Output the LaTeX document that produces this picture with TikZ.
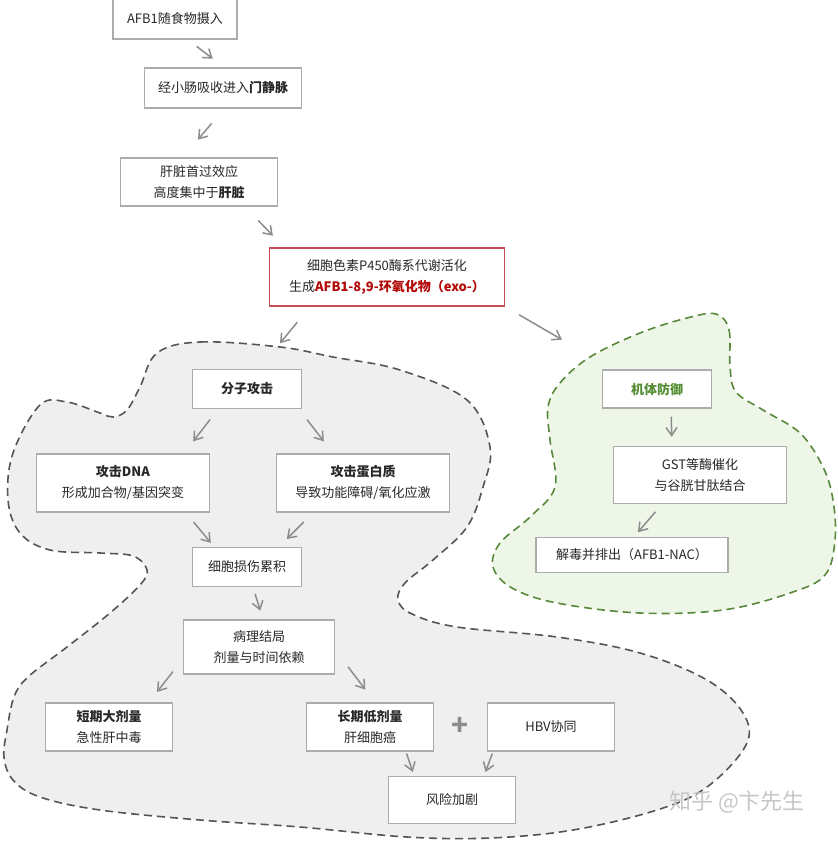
\documentclass[tikz,border=0pt]{standalone}
\usepackage{fontspec}
\setmainfont{Noto Sans CJK SC}
\usetikzlibrary{arrows.meta}
\definecolor{boxline}{RGB}{172,172,172}
\definecolor{inktext}{RGB}{40,40,40}
\definecolor{redline}{RGB}{196,80,84}
\definecolor{redtext}{RGB}{178,8,8}
\definecolor{greentext}{RGB}{84,142,52}
\definecolor{greenline}{RGB}{88,136,58}
\definecolor{greenfill}{RGB}{238,246,232}
\definecolor{grayfill}{RGB}{239,239,239}
\definecolor{grayline}{RGB}{85,85,85}
\definecolor{arrowgray}{RGB}{140,140,140}
\begin{document}
\begin{tikzpicture}
[x=1pt, y=-1pt, font=\fontsize{13}{21}\selectfont, text=inktext]
\tikzstyle{box}=[draw=boxline, line width=1.5pt, fill=white, align=center, inner sep=0pt]
\tikzstyle{flow}=[draw=arrowgray, line width=1.5pt, -{Straight Barb[length=8pt, width=11pt]}]
\tikzstyle{blob}=[line width=1.6pt, dash pattern=on 8pt off 5pt]

\useasboundingbox (0,0) rectangle (837,842);

\draw[blob, draw=grayline, fill=grayfill] plot[smooth cycle, tension=0.6] coordinates {
 (157,353) (200,342) (280,347) (333,357) (400,370) (467,400) (490,447) (483,487)
 (467,527) (433,560) (405,583) (398,600) (412,614) (457,627) (557,637) (640,653)
 (707,680) (743,713) (746,745) (707,787) (657,810) (573,830) (490,838) (407,837)
 (300,827) (200,820) (100,810) (40,797) (13,780) (4,757) (7,730) (14,697) (28,677)
 (67,647) (110,613) (140,585) (147,570) (133,556) (100,553) (50,550) (20,533)
 (8,500) (13,453) (40,405) (67,402) (100,413) (113,417) (127,410) (140,387)};
\draw[blob, draw=greenline, fill=greenfill] plot[smooth cycle, tension=0.6] coordinates {
 (716,314) (729,330) (730,367) (736,392) (763,410) (800,433) (823,467) (833,500)
 (835,540) (825,575) (790,593) (723,610) (640,613) (557,603) (512,588) (493,567)
 (500,543) (530,517) (555,487) (550,440) (548,407) (560,383) (590,357) (640,333)
 (687,318)};

\node[box]	(intake)	at (175,19)	[minimum width=124pt, minimum height=40pt]	{AFB1随食物摄入};
\node[box]	(portal)	at (223,88)	[minimum width=157pt, minimum height=40pt]	{经小肠吸收进入\textbf{门静脉}};
\node[box]	(liver)		at (199,182)	[minimum width=157pt, minimum height=48pt]	{肝脏首过效应\\高度集中于\textbf{肝脏}};
\node[box, draw=redline] (p450) at (387,277) [minimum width=235pt, minimum height=58pt]	{细胞色素P450酶系代谢活化\\生成\textcolor{redtext}{\textbf{AFB1-8,9-环氧化物（exo-）}}};

\node[box]	(attack)	at (247,389)	[minimum width=109pt, minimum height=39pt]	{\textbf{分子攻击}};
\node[box]	(dna)		at (123,483)	[minimum width=173pt, minimum height=58pt]	{\textbf{攻击DNA}\\形成加合物/基因突变};
\node[box]	(protein)	at (363,483)	[minimum width=173pt, minimum height=58pt]	{\textbf{攻击蛋白质}\\导致功能障碍/氧化应激};
\node[box]	(damage)	at (247,567)	[minimum width=109pt, minimum height=39pt]	{细胞损伤累积};
\node[box]	(outcome)	at (259,647)	[minimum width=151pt, minimum height=54pt]	{病理结局\\剂量与时间依赖};
\node[box]	(acute)		at (109,727)	[minimum width=127pt, minimum height=48pt]	{\textbf{短期大剂量}\\急性肝中毒};
\node[box]	(chronic)	at (370,727)	[minimum width=127pt, minimum height=48pt]	{\textbf{长期低剂量}\\肝细胞癌};
\node		(plus)		at (460,726)	[text=arrowgray, font=\fontsize{28}{28}\selectfont\bfseries]	{+};
\node[box]	(hbv)		at (551,727)	[minimum width=127pt, minimum height=48pt]	{HBV协同};
\node[box]	(risk)		at (452,800)	[minimum width=127pt, minimum height=47pt]	{风险加剧};

\node[box]	(defense)	at (657,389)	[minimum width=109pt, minimum height=38pt]	{\textcolor{greentext}{\textbf{机体防御}}};
\node[box]	(gst)		at (700,475)	[minimum width=173pt, minimum height=57pt]	{GST等酶催化\\与谷胱甘肽结合};
\node[box]	(detox)		at (632,555)	[minimum width=192pt, minimum height=35pt]	{解毒并排出（AFB1-NAC）};

\node		(zhihu)		at (737,802)	[text=gray!45, font=\fontsize{22}{22}\selectfont]	{知乎 @卞先生};

\draw[flow, shorten <=11pt, shorten >=14pt] ([xshift=13pt]intake.south) -- ([xshift=1pt]portal.north);
\draw[flow, shorten <=19pt, shorten >=23pt] ([xshift=1pt]portal.south) -- ([xshift=-16pt]liver.north);
\draw[flow, shorten <=19pt, shorten >=16pt] ([xshift=46pt]liver.south) -- ([xshift=-103pt]p450.north);
\draw[flow, shorten <=20pt, shorten >=33pt] ([xshift=-77pt]p450.south) -- ([xshift=12pt]attack.north);
\draw[flow, shorten <=16pt, shorten >=59pt] (p450.south east) -- ([xshift=-44pt]defense.north);

\draw[flow, shorten <=13pt, shorten >=15pt] ([xshift=-29pt]attack.south) -- ([xshift=61pt]dna.north);
\draw[flow, shorten <=13pt, shorten >=15pt] ([xshift=52pt]attack.south) -- ([xshift=-30pt]protein.north);
\draw[flow, shorten <=12pt, shorten >=5pt] ([xshift=63pt]dna.south) -- ([xshift=-33pt]damage.north);
\draw[flow, shorten <=13pt, shorten >=11pt] ([xshift=-50pt]protein.south) -- ([xshift=32pt]damage.north);
\draw[flow, shorten <=7pt, shorten >=9pt] ([xshift=6pt]damage.south) -- ([xshift=4pt]outcome.north);
\draw[flow, shorten <=16pt, shorten >=13pt] ([yshift=-12pt]outcome.west) -- ([xshift=40pt]acute.north);
\draw[flow, shorten <=21pt, shorten >=16pt] ([yshift=-3pt]outcome.east) -- ([xshift=5pt]chronic.north);
\draw[flow, shorten <=2pt, shorten >=4pt] ([xshift=36pt]chronic.south) -- ([xshift=-38pt]risk.north);
\draw[flow, shorten <=2pt, shorten >=4pt] ([xshift=-58pt]hbv.south) -- ([xshift=32pt]risk.north);

\draw[flow, shorten <=8pt, shorten >=9pt] ([xshift=14pt]defense.south) -- ([xshift=-28pt]gst.north);
\draw[flow, shorten <=10pt, shorten >=6pt] ([xshift=-38pt]gst.south) -- ([xshift=2pt]detox.north);
\end{tikzpicture}
\end{document}
